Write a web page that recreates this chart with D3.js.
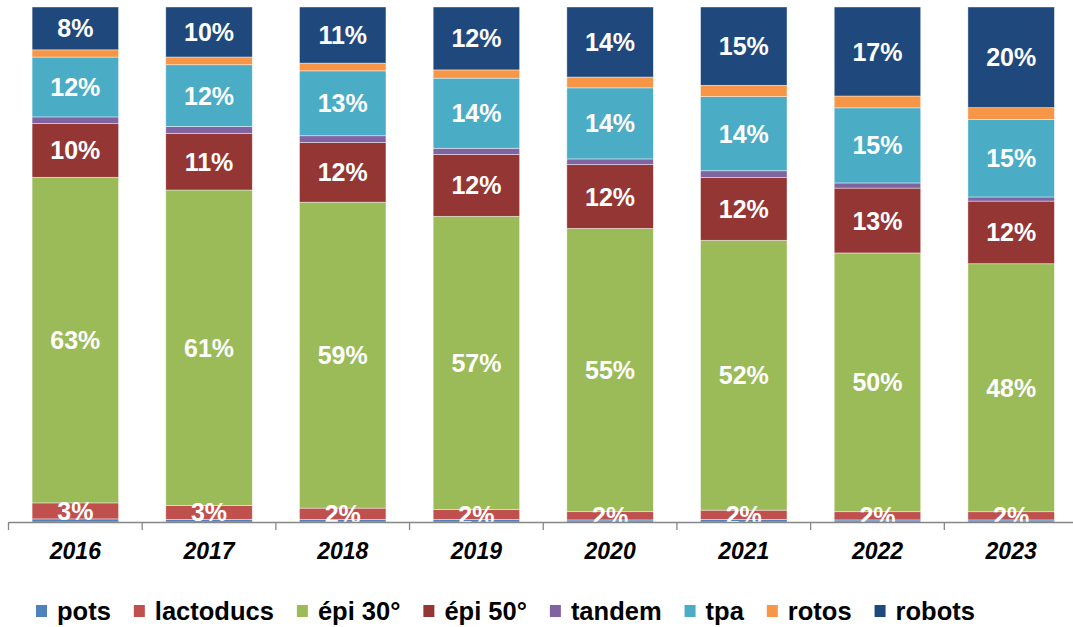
<!DOCTYPE html>
<html>
<head>
<meta charset="utf-8">
<script src="https://cdn.jsdelivr.net/npm/d3@7"></script>
<style>
  html, body { margin: 0; padding: 0; background: #fff; }
  svg { display: block; }
  text { font-family: "Liberation Sans", Arial, sans-serif; }
</style>
</head>
<body>
<svg id="chart" width="1073" height="627"></svg>
<script>
// ---- data (percent of total per year) ----
const years = ["2016", "2017", "2018", "2019", "2020", "2021", "2022", "2023"];
const seriesNames = ["pots", "lactoducs", "épi 30°", "épi 50°", "tandem", "tpa", "rotos", "robots"];
const pots      = [0.6, 0.5, 0.5, 0.5, 0.4, 0.5, 0.4, 0.4];
const lactoducs = [3.1, 2.7, 2.2, 1.9, 1.6, 1.8, 1.6, 1.6];
const epi30     = [63.1, 61.2, 59.4, 56.9, 55.0, 52.4, 50.3, 48.3];
const epi50     = [10.4, 11.0, 11.6, 12.0, 12.4, 12.2, 12.6, 12.2];
const tandem    = [1.3, 1.3, 1.3, 1.2, 1.1, 1.3, 1.0, 0.8];
const tpa       = [11.6, 12.0, 12.6, 13.6, 13.8, 14.4, 14.6, 15.1];
const rotos     = [1.4, 1.5, 1.5, 1.6, 2.1, 2.2, 2.3, 2.3];
const robots    = [8.3, 9.7, 10.9, 12.2, 13.6, 15.2, 17.3, 19.6];
const labelled  = ["lactoducs", "épi 30°", "épi 50°", "tpa", "robots"];
const colors    = ["#4F81BD", "#C0504D", "#9BBB59", "#943634", "#8064A2", "#4BACC6", "#F79646", "#1F497D"];

(function () {
const seriesValues = [pots, lactoducs, epi30, epi50, tandem, tpa, rotos, robots];
const table = years.map((yr, i) => {
  const row = { year: yr };
  seriesNames.forEach((s, j) => row[s] = seriesValues[j][i]);
  return row;
});

const svg = d3.select("#chart");
const plotTop = 7, plotBottom = 522, plotLeft = 8.5, plotRight = 1078;

const x = d3.scaleBand().domain(years).range([plotLeft, plotRight]).paddingInner(0.353).paddingOuter(0.1765);
const y = d3.scaleLinear().domain([0, 1]).range([plotBottom, plotTop]);
const color = d3.scaleOrdinal().domain(seriesNames).range(colors);

const stack = d3.stack().keys(seriesNames).offset(d3.stackOffsetExpand);
const layers = stack(table);

svg.append("defs").append("clipPath").attr("id", "plotclip")
  .append("rect").attr("x", 0).attr("y", plotTop).attr("width", 1073).attr("height", plotBottom - plotTop);

const g = svg.append("g");
const layerG = g.selectAll("g.layer").data(layers).join("g")
  .attr("class", "layer").attr("fill", d => color(d.key));

layerG.selectAll("rect").data(d => d).join("rect")
  .attr("x", d => x(d.data.year))
  .attr("width", x.bandwidth())
  .attr("y", d => y(d[1]))
  .attr("height", d => y(d[0]) - y(d[1]))
  .attr("stroke", "rgba(255,255,255,0.6)")
  .attr("stroke-width", 0.7);

// value labels
const lblG = svg.append("g").attr("clip-path", "url(#plotclip)");
layers.filter(l => labelled.includes(l.key)).forEach(l => {
  lblG.selectAll(null).data(l).join("text")
    .attr("x", d => x(d.data.year) + x.bandwidth() / 2)
    .attr("y", d => (y(d[0]) + y(d[1])) / 2)
    .attr("dy", "0.36em")
    .attr("text-anchor", "middle")
    .attr("fill", "#fff")
    .attr("font-weight", "bold")
    .attr("font-size", "25px")
    .text(d => Math.round(d.data[l.key]) + "%");
});

// x axis
const axis = d3.axisBottom(x).tickSize(0).tickPadding(21).tickSizeOuter(0);
const ax = svg.append("g").attr("transform", `translate(0,${plotBottom})`).call(axis);
ax.select(".domain").attr("stroke", "#868686").attr("stroke-width", 1.3);
ax.selectAll(".tick text")
  .attr("font-family", "Liberation Sans, Arial, sans-serif")
  .attr("font-size", "23px").attr("font-weight", "bold").attr("font-style", "italic")
  .attr("fill", "#000");
// tick marks between categories
const boundaries = years.map(yr => x(yr) - x.step() * x.paddingInner() / 2).concat([plotRight]);
svg.append("g").selectAll("line").data(boundaries).join("line")
  .attr("x1", d => d).attr("x2", d => d)
  .attr("y1", plotBottom).attr("y2", plotBottom + 8)
  .attr("stroke", "#868686").attr("stroke-width", 1.3);

// legend
const legend = svg.append("g");
let lx = 36;
seriesNames.forEach(s => {
  legend.append("rect").attr("x", lx).attr("y", 605).attr("width", 11).attr("height", 12).attr("fill", color(s));
  const t = legend.append("text").attr("x", lx + 21).attr("y", 620)
    .attr("font-size", "25.5px").attr("font-weight", "bold").attr("fill", "#000").text(s);
  lx += 21 + t.node().getComputedTextLength() + 23;
});
})();
</script>
</body>
</html>
